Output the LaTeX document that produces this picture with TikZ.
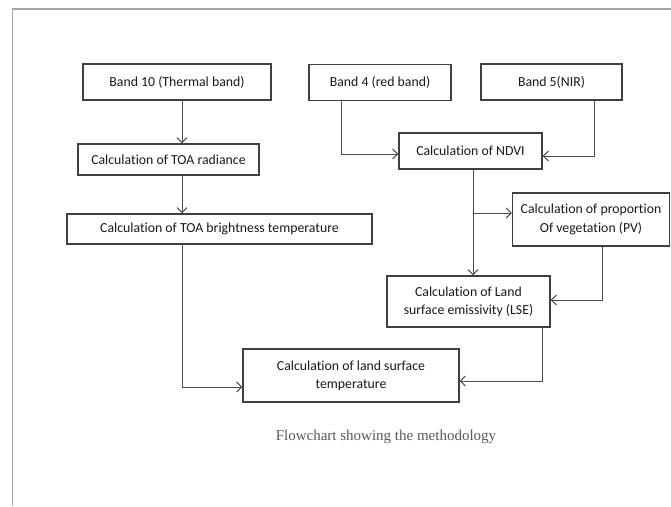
\documentclass[tikz,border=0pt]{standalone}
\usepackage{fontspec}
\setmainfont{Carlito}[Ligatures=NoCommon]
\newfontfamily\capfont{Liberation Serif}
\usetikzlibrary{arrows.meta}

\begin{document}
\begin{tikzpicture}[x=1pt,y=-1pt,
  box/.style={draw=black!75, line width=1.2pt, inner sep=0pt, align=center,
    text=black!90, font=\fontsize{13.8}{18.3}\selectfont},
  arr/.style={draw=black!70, line width=1pt, -{Straight Barb[length=5pt,width=10pt]}}]
\useasboundingbox (0,0) rectangle (671,506);
\draw[black!35, line width=1.3pt] (12.7,506) -- (12.7,9) -- (671,9);
% input bands
\node[box, minimum width=188pt, minimum height=36pt] (b10) at (177,82) {Band 10 (Thermal band)};
\node[box, minimum width=142pt, minimum height=36pt] (b4) at (380,82.5) {Band 4 (red band)};
\node[box, minimum width=141pt, minimum height=36pt] (b5) at (551.5,82) {Band 5(NIR)};
% thermal side
\node[box, minimum width=181pt, minimum height=31pt] (rad) at (168.5,159.5) {Calculation of TOA radiance};
\node[box, minimum width=305pt, minimum height=30pt] (bt) at (219.5,229) {Calculation of TOA brightness temperature};
% vegetation side
\node[box, minimum width=143pt, minimum height=36pt] (ndvi) at (470.5,151) {Calculation of NDVI};
\node[box, minimum width=157pt, minimum height=53pt] (pv) at (591,219.5) {Calculation of proportion\\Of vegetation (PV)};
\node[box, minimum width=163pt, minimum height=51pt] (lse) at (468.5,301.5) {Calculation of Land\\surface emissivity (LSE)};
\node[box, minimum width=216pt, minimum height=53pt] (lst) at (351,375.5) {Calculation of land surface\\temperature};
\node[font=\capfont\fontsize{15}{18}\selectfont, text=black!65] (cap) at (386,437) {Flowchart showing the methodology};
% connectors
\coordinate (t) at (182,0);
\coordinate (n) at (473,0);
\coordinate (pvin) at ([yshift=6.5pt]pv.west);
\path[arr] (b10.south -| t) -- (rad.north -| t);
\path[arr] (rad.south -| t) -- (bt.north -| t);
\path[arr] (bt.south -| t) |- ([yshift=-11.5pt]lst.west);
\path[arr] ([xshift=-39pt]b4.south) |- ([yshift=-3pt]ndvi.west);
\path[arr] ([xshift=42.5pt]b5.south) |- ([yshift=-5pt]ndvi.east);
\path[arr] (ndvi.south -| n) -- (lse.north -| n);
\path[arr] (n |- pvin) -- (pvin);
\path[arr] ([xshift=11pt]pv.south) |- ([yshift=1.5pt]lse.east);
\path[arr] ([xshift=73.5pt]lse.south) |- ([yshift=-5.5pt]lst.east);
\end{tikzpicture}
\end{document}
